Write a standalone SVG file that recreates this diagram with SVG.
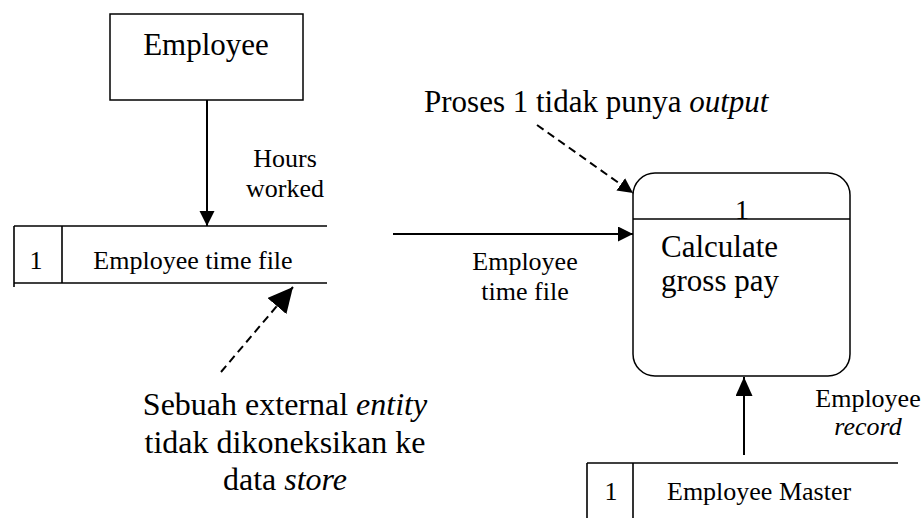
<svg xmlns="http://www.w3.org/2000/svg" width="923" height="518" viewBox="0 0 923 518">
<style>
text{font-family:"Liberation Serif","Times New Roman",serif;fill:#000}
.box{fill:#fff;stroke:#000;stroke-width:1.5}
.ln{stroke:#000;stroke-width:1.6;fill:none}
.flow{stroke:#000;stroke-width:2;fill:none}
.dash{stroke:#000;stroke-width:2;fill:none;stroke-dasharray:8 5}
</style>
<defs>
<marker id="ah" markerUnits="userSpaceOnUse" markerWidth="16" markerHeight="16" refX="15" refY="7.5" orient="auto">
<path d="M0,0 L15,7.5 L0,15 Z" fill="#000"/>
</marker>
<marker id="ahl" markerUnits="userSpaceOnUse" markerWidth="20" markerHeight="18" refX="19" refY="8.5" orient="auto">
<path d="M0,0 L19,8.5 L0,17 Z" fill="#000"/>
</marker>
<marker id="ahb" markerUnits="userSpaceOnUse" markerWidth="26" markerHeight="26" refX="25" refY="12.5" orient="auto">
<path d="M0,0 L25,12.5 L0,25 Z" fill="#000"/>
</marker>
</defs>

<g id="employee">
<rect class="box" x="110" y="14" width="193" height="86"/>
<text x="206" y="55" font-size="31" text-anchor="middle">Employee</text>
</g>

<g id="store-time-file">
<line class="ln" x1="14" y1="226" x2="327" y2="226"/>
<line class="ln" x1="14" y1="283" x2="327" y2="283"/>
<line class="ln" x1="14" y1="226" x2="14" y2="287"/>
<line class="ln" x1="62" y1="226" x2="62" y2="283"/>
<text x="36" y="269" font-size="26" text-anchor="middle">1</text>
<text x="193" y="269" font-size="26" text-anchor="middle">Employee time file</text>
</g>

<g id="process-1">
<rect class="box" x="633" y="173" width="217" height="203" rx="22" ry="22"/>
<line class="ln" x1="633" y1="219" x2="850" y2="219"/>
<text x="742" y="219" font-size="28" text-anchor="middle">1</text>
<text x="661" y="257" font-size="31">Calculate</text>
<text x="661" y="291" font-size="31">gross pay</text>
</g>

<g id="store-master">
<line class="ln" x1="587" y1="463" x2="898" y2="463"/>
<line class="ln" x1="587" y1="463" x2="587" y2="518"/>
<line class="ln" x1="633" y1="463" x2="633" y2="518"/>
<text x="611" y="500" font-size="26" text-anchor="middle">1</text>
<text x="667" y="500" font-size="26">Employee Master</text>
</g>

<g id="note-process">
<text x="424" y="112" font-size="31">Proses 1 tidak punya <tspan font-style="italic">output</tspan></text>
</g>

<g id="note-entity">
<text x="285" y="415" font-size="32" text-anchor="middle">Sebuah external <tspan font-style="italic">entity</tspan></text>
<text x="285" y="453" font-size="32" text-anchor="middle">tidak dikoneksikan ke</text>
<text x="285" y="490" font-size="32" text-anchor="middle">data <tspan font-style="italic">store</tspan></text>
</g>

<g id="connectors">
<line class="flow" x1="207" y1="100" x2="207" y2="226" marker-end="url(#ah)"/>
<text x="285" y="167" font-size="26" text-anchor="middle">Hours</text>
<text x="285" y="197" font-size="26" text-anchor="middle">worked</text>

<line class="flow" x1="393" y1="234" x2="633" y2="234" marker-end="url(#ah)"/>
<text x="525" y="270" font-size="26" text-anchor="middle">Employee</text>
<text x="525" y="300" font-size="26" text-anchor="middle">time file</text>

<line class="flow" x1="744" y1="455" x2="744" y2="377" marker-end="url(#ahl)"/>
<text x="868" y="407" font-size="26" text-anchor="middle">Employee</text>
<text x="868" y="435" font-size="26" text-anchor="middle" font-style="italic">record</text>

<line class="dash" x1="537" y1="125" x2="633" y2="193" marker-end="url(#ah)"/>
<line class="dash" x1="221" y1="372" x2="293" y2="287" marker-end="url(#ahb)"/>
</g>
</svg>
